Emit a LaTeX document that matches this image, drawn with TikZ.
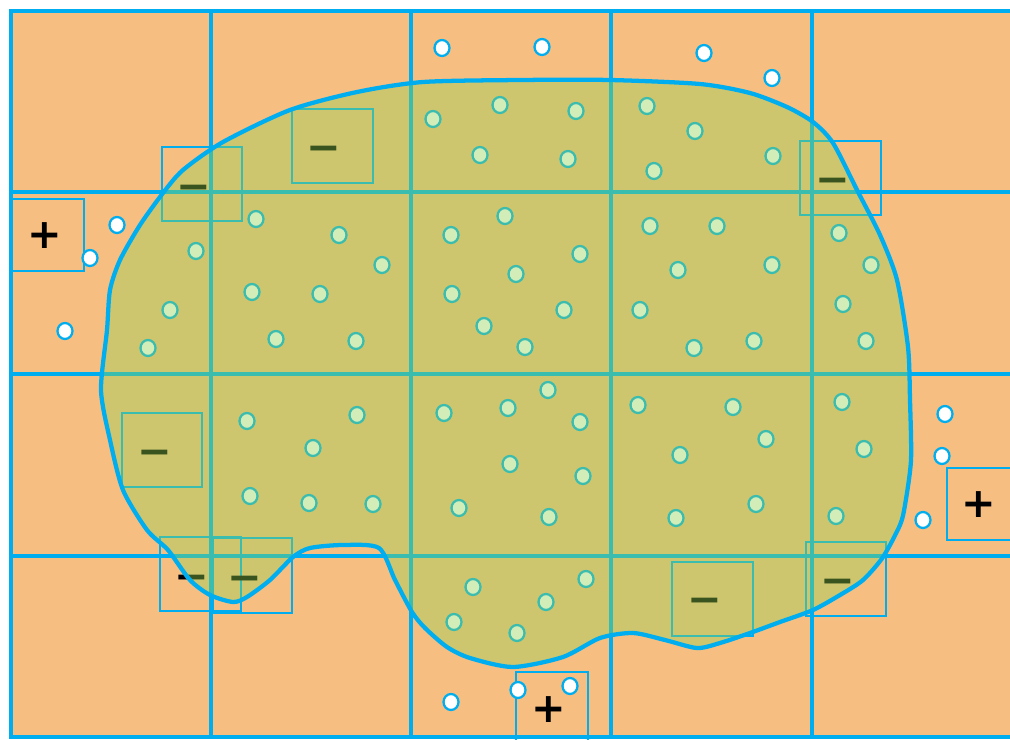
\documentclass[tikz,border=0pt]{standalone}
\usepackage{fontspec}
\setmainfont{DejaVu Sans}
\definecolor{cellOrange}{RGB}{247,190,130}
\definecolor{lineBlue}{RGB}{0,174,239}
\definecolor{blobTint}{RGB}{145,210,80}

\begin{document}
\begin{tikzpicture}[
    x=0.75pt, y=-0.75pt,
    gridLine/.style={draw=lineBlue, line width=2.5pt},
    boxLine/.style={draw=lineBlue, line width=1.3pt},
    dotPt/.style={draw=lineBlue, fill=white, line width=1.7pt},
    signNode/.style={inner sep=0pt, font=\bfseries\fontsize{31}{31}\selectfont},
    minusNode/.style={signNode, yshift=-5.25pt},
    blobFill/.style={fill=blobTint, fill opacity=0.4},
    blobLine/.style={draw=lineBlue, line width=3.2pt, line join=round}
]
    \useasboundingbox (0,0) rectangle (1010,739);
    \clip (0,0) rectangle (1010,739);

    % cells
    \fill[cellOrange] (11,11) rectangle (1020,737);
    \draw[gridLine] (11,11) rectangle (1020,737);
    \draw[gridLine] (11,192) -- (1020,192);
    \draw[gridLine] (11,374) -- (1020,374);
    \draw[gridLine] (11,556) -- (1020,556);
    \draw[gridLine] (211,11) -- (211,737);
    \draw[gridLine] (411,11) -- (411,737);
    \draw[gridLine] (611,11) -- (611,737);
    \draw[gridLine] (812,11) -- (812,737);

    % boxes
    \draw[boxLine] (162,147) rectangle (242,221);
    \draw[boxLine] (292,109) rectangle (373,183);
    \draw[boxLine] (800,141) rectangle (881,215);
    \draw[boxLine] (122,413) rectangle (202,487);
    \draw[boxLine] (160,537) rectangle (241,611);
    \draw[boxLine] (213,538) rectangle (292,613);
    \draw[boxLine] (672,562) rectangle (753,636);
    \draw[boxLine] (806,542) rectangle (886,616);
    \draw[boxLine] (12,199) rectangle (84,271);
    \draw[boxLine] (947,468) rectangle (1019,540);
    \draw[boxLine] (516,672) rectangle (588,744);

    % sample points
    \foreach \px/\py in {442/48, 542/47, 704/53, 772/78, 117/225, 90/258, 65/331,
        945/414, 942/456, 923/520, 451/702, 518/690, 570/686,
        433/119, 500/105, 576/111, 480/155, 568/159, 647/106, 695/131, 654/171, 773/156,
        256/219, 196/251, 339/235, 382/265, 252/292, 320/294, 170/310, 148/348, 276/339, 356/341,
        451/235, 505/216, 516/274, 580/254, 452/294, 564/310, 484/326, 525/347,
        650/226, 717/226, 678/270, 772/265, 640/310, 694/348, 754/341,
        839/233, 871/265, 843/304, 866/341,
        247/421, 357/415, 313/448, 250/496, 309/503, 373/504,
        444/413, 508/408, 548/390, 580/422, 510/464, 583/476, 459/508, 549/517,
        638/405, 733/407, 766/439, 680/455, 756/504, 676/518,
        842/402, 864/449, 836/516,
        473/587, 586/579, 546/602, 454/622, 517/633}
        \draw[dotPt] (\px,\py) ellipse [x radius=7.5, y radius=8];

    % signs
    \node[minusNode] (m1) at (194,186) {−};
    \node[minusNode] (m2) at (324,147) {−};
    \node[minusNode] (m3) at (833,179) {−};
    \node[minusNode] (m4) at (155,451) {−};
    \node[minusNode] (m5) at (192,576) {−};
    \node[minusNode] (m6) at (245,577) {−};
    \node[minusNode] (m7) at (705,599) {−};
    \node[minusNode] (m8) at (838,580) {−};
    \node[signNode] (p1) at (45,236) {+};
    \node[signNode] (p2) at (979,505) {+};
    \node[signNode] (p3) at (549,710) {+};

    % region
    \path[blobFill, blobLine] plot[smooth cycle, tension=0.45] coordinates {
        (423,82) (520,80) (610,80) (700,84) (750,93) (787,107) (813,122) (833,143)
        (857,190) (880,235) (897,280) (908,347) (910,400) (911,460) (905,505) (900,525)
        (883,557) (863,580) (840,595) (813,610) (780,622) (750,633) (720,643) (697,648)
        (665,640) (633,633) (600,638) (563,657) (513,667) (470,658) (447,647) (425,628)
        (412,612) (395,580) (379,548) (343,545) (310,548) (293,557) (270,580) (247,597)
        (233,602) (210,595) (190,580) (168,550) (147,530) (123,490) (110,440) (101,390)
        (107,330) (110,290) (120,260) (140,225) (163,193) (183,170) (223,142) (290,110)
        (357,92)};
\end{tikzpicture}
\end{document}
